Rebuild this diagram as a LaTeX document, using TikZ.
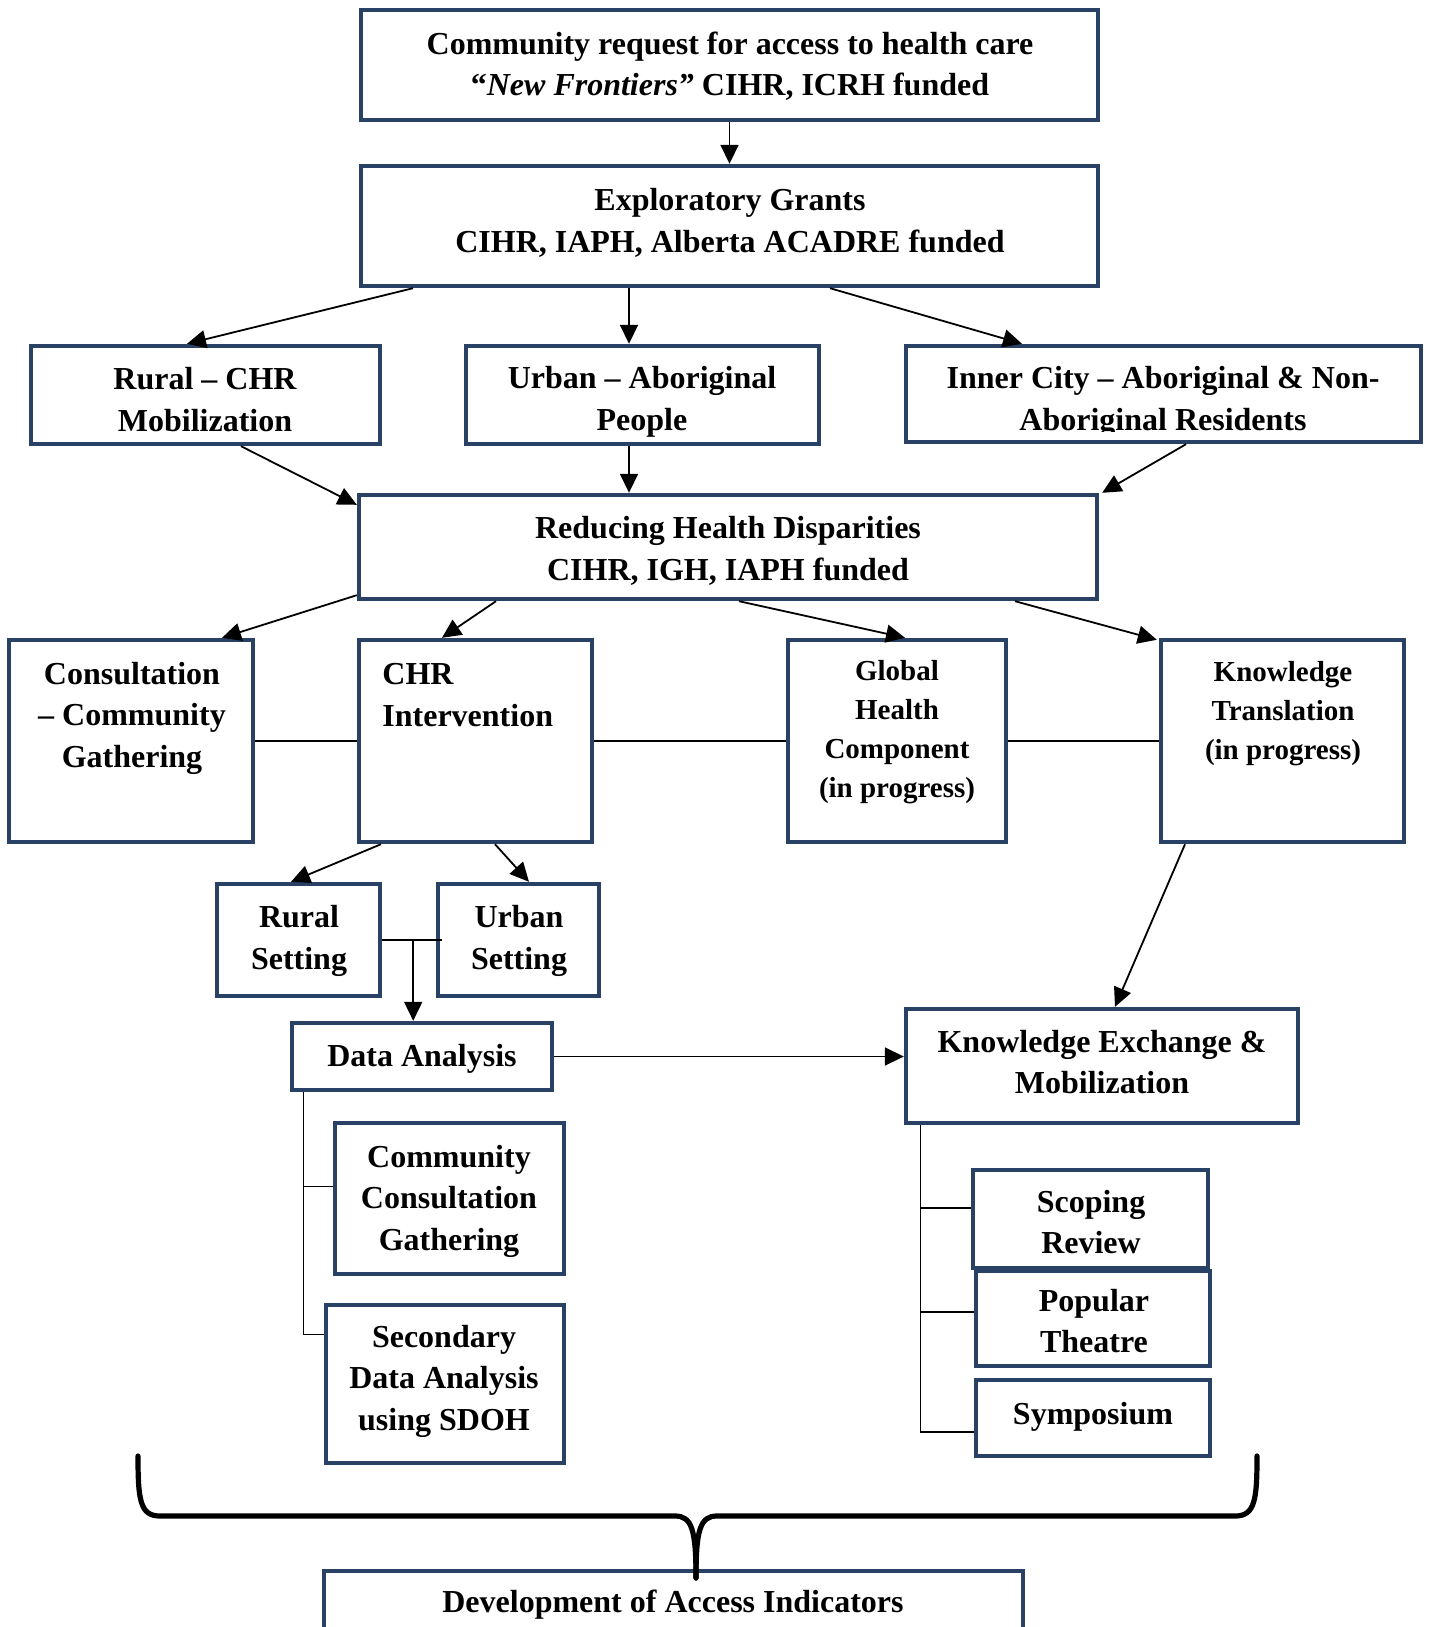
\documentclass[tikz,border=0pt]{standalone}
\usepackage{fontspec}
\setmainfont{Liberation Serif}
\usetikzlibrary{arrows.meta,calc}
\definecolor{boxblue}{RGB}{41,65,100}
\tikzset{
  box/.style={draw=boxblue, line width=2.2pt, rectangle, inner sep=0pt},
  txt/.style={font=\fontsize{16}{20.75}\selectfont\bfseries, align=center, inner sep=0pt},
  stxt/.style={font=\fontsize{14.5}{19.5}\selectfont\bfseries, align=center, inner sep=0pt},
  arr/.style={draw=black, line width=0.9pt, -{Triangle[length=9.5pt,width=9pt]}},
  conn/.style={draw=black, line width=0.9pt},
  tree/.style={draw=black, line width=0.6pt},
  brace/.style={draw=black, line width=2.6pt, line cap=round, line join=round}
}
\newcommand\mkbox[5]{\node[box, minimum width={(#4-#2)*0.5pt}, minimum height={(#5-#3)*0.5pt}] (#1) at ({(#2+#4)/2},{(#3+#5)/2}) {};}
\begin{document}
\begin{tikzpicture}[x=0.5pt,y=-0.5pt]
\useasboundingbox (0,0) rectangle (1429,1627);
\clip (0,0) rectangle (1429,1627);
% boxes
\mkbox{b1}{361}{10}{1098}{120}
\mkbox{b2}{361}{166}{1098}{286}
\mkbox{b3}{31}{346}{380}{444}
\mkbox{b4}{466}{346}{819}{444}
\mkbox{b5}{906}{346}{1421}{442}
\mkbox{b6}{359}{495}{1097}{599}
\mkbox{b7}{9}{640}{253}{842}
\mkbox{b8}{359}{640}{592}{842}
\mkbox{b9}{788}{640}{1006}{842}
\mkbox{b10}{1161}{640}{1404}{842}
\mkbox{b11}{217}{884}{380}{996}
\mkbox{b12}{438}{884}{599}{996}
\mkbox{b13}{292}{1023}{552}{1090}
\mkbox{b14}{906}{1009}{1298}{1123}
\mkbox{b15}{335}{1123}{564}{1274}
\mkbox{b16}{326}{1305}{564}{1463}
\mkbox{b17}{973}{1170}{1208}{1268}
\mkbox{b18}{976}{1271}{1210}{1366}
\mkbox{b19}{976}{1380}{1210}{1456}
\mkbox{b20}{324}{1571}{1023}{1640}
% texts
\node[txt] (t1) at (730,66) {Community request for access to health care\\“\textit{New Frontiers”} CIHR, ICRH funded};
\node[txt] (t2) at (730,223) {Exploratory Grants\\CIHR, IAPH, Alberta ACADRE funded};
\node[txt] (t3) at (205,399.5) {Rural – CHR\\Mobilization};
\node[txt] (t4) at (642,402) {Urban – Aboriginal\\People};
\begin{scope}
\clip (906,346) rectangle (1421,431);
\node[txt] (t5) at (1163,402) {Inner City – Aboriginal \& Non-\\Aboriginal Residents};
\end{scope}
\node[txt] (t6) at (728,551) {Reducing Health Disparities\\CIHR, IGH, IAPH funded};
\node[txt] (t7) at (132,718) {Consultation\\– Community\\Gathering};
\node[txt, align=left, anchor=west] (t8) at (382,695) {CHR\\Intervention};
\node[stxt] (t9) at (897,732.5) {Global\\Health\\Component\\(in progress)};
\node[stxt] (t10) at (1283,714) {Knowledge\\Translation\\(in progress)};
\node[txt] (t11) at (299,941) {Rural\\Setting};
\node[txt] (t12) at (519,941) {Urban\\Setting};
\node[txt] (t13) at (422,1059) {Data Analysis};
\node[txt] (t14) at (1102,1062) {Knowledge Exchange \&\\Mobilization};
\node[txt] (t15) at (449,1201) {Community\\Consultation\\Gathering};
\node[txt] (t16) at (444,1381) {Secondary\\Data Analysis\\using SDOH};
\node[txt] (t17) at (1091,1222) {Scoping\\Review};
\node[txt] (t18) at (1094,1321) {Popular\\Theatre};
\node[txt] (t19) at (1093,1417) {Symposium};
\node[txt] (t20) at (673,1605) {Development of Access Indicators};
% connectors
\draw[arr] (b1.south) -- (b2.north);
\draw[arr] ($(b2.south)+(-316.5,0)$) -- ($(b3.north)+(-18.5,0)$);
\draw[arr] ($(b2.south)+(-100.5,0)$) -- ($(b4.north)+(-13.5,0)$);
\draw[arr] ($(b2.south)+(100.5,0)$) -- ($(b5.north)+(-141.5,0)$);
\draw[arr] ($(b3.south)+(35.5,0)$) -- ($(b6.north west)+(0,12)$);
\draw[arr] ($(b4.south)+(-13.5,0)$) -- ($(b6.north)+(-99,0)$);
\draw[arr] ($(b5.south)+(22.5,0)$) -- ($(b6.north east)+(3,0)$);
\draw[arr] ($(b6.south west)+(0,-6)$) -- ($(b7.north)+(91,0)$);
\draw[arr] ($(b6.south)+(-232,0)$) -- ($(b8.north)+(-33.5,0)$);
\draw[arr] ($(b6.south)+(11,0)$) -- ($(b9.north)+(8,0)$);
\draw[arr] ($(b6.south)+(287,0)$) -- ($(b10.north west)+(-2,2)$);
\draw[conn] (b7.east) -- (b8.west);
\draw[conn] (b8.east) -- (b9.west);
\draw[conn] (b9.east) -- (b10.west);
\draw[arr] ($(b8.south)+(-94.5,0)$) -- ($(b11.north)+(-7.5,0)$);
\draw[arr] ($(b8.south)+(19.5,0)$) -- ($(b12.north)+(10.5,0)$);
\draw[conn] (b11.east) -- ($(b12.west)+(6,0)$);
\coordinate (j1) at ($(b11.east)+(31,0)$);
\draw[arr] (j1) -- (j1 |- b13.north);
\draw[arr] (b13.east) -- (b13.east -| b14.west);
\draw[arr] ($(b10.south)+(-97.5,0)$) -- ($(b14.north)+(13,0)$);
% left tree
\coordinate (lt) at ($(b13.south west)+(14,0)$);
\draw[tree] (lt) |- ($(b16.north west)+(0,32)$);
\draw[tree] (lt |- {$(b15.north west)+(0,66)$}) -- ($(b15.north west)+(0,66)$);
% right tree
\coordinate (rt) at ($(b14.south west)+(17,0)$);
\draw[tree] (rt) |- ($(b19.west)+(0,14)$);
\draw[tree] (rt |- {$(b17.west)+(0,-11)$}) -- ($(b17.west)+(0,-11)$);
\draw[tree] (rt |- {$(b18.west)+(0,-6.5)$}) -- ($(b18.west)+(0,-6.5)$);
% brace
\draw[brace] (138,1456) .. controls (138,1500) and (140,1516) .. (160,1516) -- (675,1516) .. controls (692,1516) and (696,1530) .. (696,1578);
\draw[brace] (696,1578) .. controls (696,1530) and (700,1516) .. (717,1516) -- (1235,1516) .. controls (1255,1516) and (1257,1500) .. (1257,1456);
\end{tikzpicture}
\end{document}
